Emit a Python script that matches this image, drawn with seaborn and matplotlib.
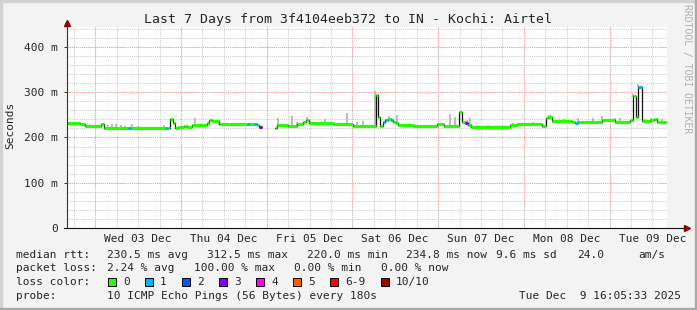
import numpy as np
import pandas as pd
import matplotlib
matplotlib.use("Agg")
import matplotlib.pyplot as plt
import seaborn as sns
from matplotlib.patches import Rectangle

# ---------------- data (hours since Tue Dec 2 16:05:33, values in ms) ----------------
seg_start_h = [0.0, 1.4, 3.6, 5.0, 9.5, 10.4, 17.1, 17.9, 27.4, 28.3, 28.8, 29.7, 30.2,
               31.1, 32.8, 33.6, 35.0, 39.2, 39.8, 40.6, 42.6, 50.4, 51.2, 52.4, 53.2,
               53.8, 54.6, 58.2, 58.8, 61.9, 64.4, 66.1, 66.9, 67.8, 74.5, 80.1, 86.5,
               87.1, 87.6, 88.5, 89.0, 89.9, 90.7, 91.3, 92.1, 92.7, 96.9, 103.6, 105.6,
               109.8, 110.6, 111.4, 112.3, 113.1, 124.0, 126.0, 133.0, 134.1, 134.7,
               135.8, 141.4, 142.2, 143.1, 143.6, 149.8, 153.4, 157.6, 158.5, 159.3,
               159.9, 161.0, 163.2, 164.4, 165.2]
median_ms = [233, 231.5, 229, 225, 229, 220.5, 220.5, 220.5, 220.5, 222, 241, 232, 220,
             223.5, 226, 223, 227, 232, 239, 236, 230, 229, 229, 229, 228,
             224, np.nan, 222, 228, 226, 229, 234, 238, 233, 230, 226, 294,
             246, 226, 234, 239, 240, 239, 235, 231, 228, 226, 230.5, 225,
             256, 234, 231, 228, 224, 228, 230, 225.5, 242.5, 246,
             237, 234, 233, 234, 235, 239.5, 235, 239.5, 290.5, 246,
             312.5, 237, 239.5, 241.5, 235]
loss_count = [0, 0, 0, 0, 0, 0, 1, 0, 1, 0, 0, 0, 0,
              0, 0, 0, 0, 0, 0, 0, 0, 1, 0, 1, 0,
              3, 0, 0, 0, 0, 0, 0, 0, 0, 0, 0, 0,
              0, 0, 1, 1, 0, 1, 0, 0, 0, 0, 0, 0,
              0, 0, 3, 0, 0, 0, 0, 0, 0, 0,
              0, 0, 1, 0, 0, 0, 0, 0, 0, 0,
              1, 0, 0, 0, 0]
end_h = 168.0

smoke_h = [11.5, 12.6, 13.7, 15.1, 16.2, 18.2, 19.9, 27.2, 35.8, 42.6, 53.0,
           59.1, 62.9, 64.5, 67.1, 72.2, 78.4, 81.2, 83.0, 86.2, 90.1, 92.3,
           107.2, 108.6, 112.1, 112.8, 117.9, 124.9, 130.5, 135.1, 139.1, 143.1,
           147.3, 149.8, 153.4, 154.8, 158.6, 160.0, 161.9, 163.5, 166.6]
smoke_top_ms = [226.5, 228.8, 230, 227, 225, 230, 226, 228.5, 243.7, 232, 232,
                244, 247.7, 234, 245, 241, 253.6, 235, 236.5, 303, 247.7, 250,
                252, 246, 239, 244, 228, 232, 234.6, 250, 240, 244,
                244, 248, 244, 244, 297, 318, 241, 244, 241]

x_labels = ["Wed 03 Dec", "Thu 04 Dec", "Fri 05 Dec", "Sat 06 Dec",
            "Sun 07 Dec", "Mon 08 Dec", "Tue 09 Dec"]
y_ticks = [0, 100, 200, 300, 400]
y_labels = ["0", "100 m", "200 m", "300 m", "400 m"]

loss_keys = ["0", "1", "2", "3", "4", "5", "6-9", "10/10"]
loss_palette = ["#26ff00", "#00b8ff", "#0059ff", "#7e00ff", "#ff00ff",
                "#ff5e00", "#ff0000", "#a00000"]

title = "Last 7 Days from 3f4104eeb372 to IN - Kochi: Airtel"

# ---------------- figure ----------------
sns.set_style("white")
plt.rcParams["font.family"] = ["DejaVu Sans Mono", "DejaVu Sans"]

W, H = 697, 310
fig = plt.figure(figsize=(W / 100, H / 100), dpi=100, facecolor="#f3f3f3")


def fx(x):
    return x / W


def fy(y):
    return 1 - y / H


# outer frame
fig.patches.append(Rectangle((0, fy(2)), 1, 2 / H, transform=fig.transFigure,
                             color="#d2d2d2", zorder=0))
fig.patches.append(Rectangle((0, 0), 2 / W, 1, transform=fig.transFigure,
                             color="#d2d2d2", zorder=0))
fig.patches.append(Rectangle((0, 0), 1, 2 / H, transform=fig.transFigure,
                             color="#a8a8a8", zorder=0))
fig.patches.append(Rectangle((1 - 2 / W, 0), 2 / W, 1, transform=fig.transFigure,
                             color="#a8a8a8", zorder=0))

ax = fig.add_axes([fx(67), 1 - 228 / H, 600 / W, 201 / H])
ax.set_facecolor("white")
ax.set_xlim(0, 168)
ax.set_ylim(0, 444)
for s in ax.spines.values():
    s.set_visible(False)

# grid
h0 = 7 + 54 / 60 + 27 / 3600
dot = (0, (1, 1))
for gx in np.arange(h0 - 6, 168, 6):
    ax.axvline(gx, color="#cccccc", lw=0.75, ls=dot, zorder=1)
for gy in np.arange(20, 444, 20):
    ax.axhline(gy, color="#cccccc", lw=0.75, ls=dot, zorder=1)
for gx in np.arange(h0, 168, 24):
    ax.axvline(gx, color="#f4a4a4", lw=0.75, ls=dot, zorder=1.5)
for gy in [100, 200, 300, 400]:
    ax.axhline(gy, color="#f4a4a4", lw=0.75, ls=dot, zorder=1.5)

# build dataframe
starts = np.array(seg_start_h, dtype=float)
vals = np.array(median_ms, dtype=float)
ends = np.append(starts[1:], end_h)
loss = np.array(loss_count)
seg = pd.DataFrame({"start": starts, "end": ends, "ms": vals, "loss": loss})

# smoke
sm = pd.DataFrame({"h": smoke_h, "top": smoke_top_ms})
idx = np.searchsorted(starts, sm["h"].values, side="right") - 1
sm["base"] = vals[idx] - 1.5
ax.bar(sm["h"], sm["top"] - sm["base"], bottom=sm["base"], width=0.6,
       color="#bdbdbd", linewidth=0, zorder=2)

# black step line (split at the gap)
rows = []
part = 0
for i in range(len(seg)):
    if np.isnan(vals[i]):
        part += 1
        continue
    rows.append((starts[i], vals[i], part))
    last_ok = i == len(seg) - 1 or np.isnan(vals[i + 1])
    if last_ok:
        rows.append((ends[i], vals[i], part))
line_df = pd.DataFrame(rows, columns=["h", "ms", "part"])
sns.lineplot(data=line_df, x="h", y="ms", units="part", estimator=None,
             color="#111111", lw=0.9, drawstyle="steps-post", ax=ax, zorder=3,
             legend=False)

# colored median segments
ok = seg.dropna()
ax.hlines(ok["ms"], ok["start"], ok["end"],
          colors=[loss_palette[int(l)] for l in ok["loss"]],
          lw=2.3, zorder=4)

# axes ticks
noon = h0 + 12 + 24 * np.arange(7)
ax.set_xticks(noon)
ax.set_xticklabels(x_labels, fontsize=8)
ax.set_yticks(y_ticks)
ax.set_yticklabels(y_labels, fontsize=8)
ax.tick_params(axis="x", length=0, pad=4)
ax.tick_params(axis="y", length=2, width=0.7, color="#333333", pad=4.5, left=True)
ax.set_xlabel("")
ax.set_ylabel("")

# axis lines + arrows
ax.plot([0, 0], [0, 1 + 4 / 201], transform=ax.transAxes, color="#333333",
        lw=0.8, clip_on=False, zorder=6)
ax.plot([-3 / 600, 1 + 20 / 600], [0, 0], transform=ax.transAxes, color="#111111",
        lw=0.8, clip_on=False, zorder=6)
ax.plot([0], [1 + 4 / 201], marker="^", ms=5, color="#8b0000",
        transform=ax.transAxes, clip_on=False, zorder=7)
ax.plot([1 + 20 / 600], [0], marker=">", ms=5, color="#8b0000",
        transform=ax.transAxes, clip_on=False, zorder=7)

# texts
fig.text(fx(348), fy(19), title, ha="center", va="center", fontsize=9.5)
fig.text(fx(10), fy(125), "Seconds", rotation=90, ha="center", va="center", fontsize=8)
fig.text(fx(687), fy(4), "RRDTOOL / TOBI OETIKER", rotation=270, ha="center",
         va="top", fontsize=7, color="#b0b0b0")

fs = 8
row1 = [(16, "median rtt:"), (107, "230.5 ms avg"), (207, "312.5 ms max"),
        (307, "220.0 ms min"), (406, "234.8 ms now"), (496, "9.6 ms sd"),
        (577, "24.0"), (638, "am/s")]
row2 = [(16, "packet loss:"), (107, "2.24 % avg"), (194, "100.00 % max"),
        (294, "0.00 % min"), (381, "0.00 % now")]
for x, t in row1:
    fig.text(fx(x), fy(255), t, ha="left", va="center", fontsize=fs)
for x, t in row2:
    fig.text(fx(x), fy(268), t, ha="left", va="center", fontsize=fs)

fig.text(fx(16), fy(282), "loss color:", ha="left", va="center", fontsize=fs)
sw_x = [108, 145, 182, 219, 256, 293, 330, 381]
for x, key, col in zip(sw_x, loss_keys, loss_palette):
    fig.patches.append(Rectangle((fx(x), fy(286)), 8 / W, 8 / H,
                                 transform=fig.transFigure, facecolor=col,
                                 edgecolor="black", lw=0.7, zorder=5))
    fig.text(fx(x + 15), fy(282), key, ha="left", va="center", fontsize=fs)

fig.text(fx(16), fy(296), "probe:", ha="left", va="center", fontsize=fs)
fig.text(fx(107), fy(296), "10 ICMP Echo Pings (56 Bytes) every 180s",
         ha="left", va="center", fontsize=fs)
fig.text(fx(681), fy(296), "Tue Dec  9 16:05:33 2025", ha="right", va="center",
         fontsize=fs)

fig.savefig("out.png", dpi=100, facecolor=fig.get_facecolor())
